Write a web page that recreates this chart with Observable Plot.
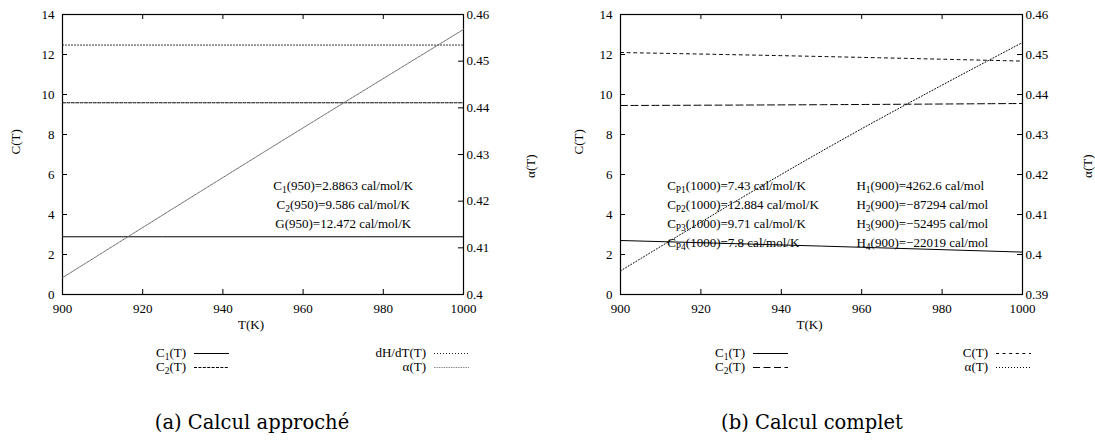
<!DOCTYPE html>
<html>
<head>
<meta charset="utf-8">
<script src="https://cdn.jsdelivr.net/npm/d3@7"></script>
<script src="https://cdn.jsdelivr.net/npm/@observablehq/plot@0.6"></script>
<style>
  body { margin: 0; background: #fff; }
  #root { position: relative; width: 1095px; height: 447px; overflow: hidden; font-family: "Liberation Serif", "Times New Roman", serif; color: #000; }
  .layer { position: absolute; top: 0; }
  .layer svg { display: block; max-width: none; }
  .leg { position: absolute; height: 14px; line-height: 14px; font-size: 13px; white-space: nowrap; }
  .leg .lab { position: absolute; text-align: right; }
  .leg .sub { font-size: 9.5px; position: relative; top: 3px; }
  .leg svg { position: absolute; top: 0; }
  .cap { position: absolute; font-family: "DejaVu Serif", serif; font-size: 19.5px; white-space: nowrap; transform: translateX(-50%); }
</style>
</head>
<body>
<div id="root"></div>
<script>
// ---------------- data ----------------
const T = [900, 950, 1000];
const xTicks = [900, 920, 940, 960, 980, 1000];
const cTicks = [0, 2, 4, 6, 8, 10, 12, 14];

// (a) Calcul approché
const aC1 = [2.8863, 2.8863, 2.8863];
const aC2 = [9.586, 9.586, 9.586];
const aDHdT = [12.472, 12.472, 12.472];
const aAlpha = [0.4036, 0.4304, 0.4568];
const aAlphaTicks = [0.40, 0.41, 0.42, 0.43, 0.44, 0.45, 0.46];
const aNotes = ["C_{1}(950)=2.8863 cal/mol/K", "C_{2}(950)=9.586 cal/mol/K", "G(950)=12.472 cal/mol/K"];

// (b) Calcul complet
const bC1 = [2.70, 2.42, 2.12];
const bC2 = [9.45, 9.49, 9.55];
const bC = [12.10, 11.90, 11.67];
const bAlpha = [0.3959, 0.4258, 0.4530];
const bAlphaTicks = [0.39, 0.40, 0.41, 0.42, 0.43, 0.44, 0.45, 0.46];
const bNotesCp = ["C_{P1}(1000)=7.43 cal/mol/K", "C_{P2}(1000)=12.884 cal/mol/K", "C_{P3}(1000)=9.71 cal/mol/K", "C_{P4}(1000)=7.8 cal/mol/K"];
const bNotesH = ["H_{1}(900)=4262.6 cal/mol", "H_{2}(900)=\u221287294 cal/mol", "H_{3}(900)=\u221252495 cal/mol", "H_{4}(900)=\u221222019 cal/mol"];

const captions = ["(a) Calcul approché", "(b) Calcul complet"];

// ---------------- layout ----------------
const H = 340, MT = 14, MB = 46;
const noteY = [5.45, 4.5, 3.55, 2.6];
const font = { fontFamily: '"Liberation Serif", "Times New Roman", serif', fontSize: "13px", background: "transparent", overflow: "visible", color: "#000" };

const rows = (vals) => T.map((t, i) => ({ T: t, v: vals[i] }));

function subscripts(svg) {
  svg.querySelectorAll("text").forEach(t => {
    const nodes = t.querySelector("tspan") ? [...t.querySelectorAll("tspan")] : [t];
    nodes.forEach(n => {
      const s = n.textContent;
      if (!s.includes("_{")) return;
      n.textContent = "";
      const re = /_\{([^}]*)\}/g;
      let last = 0, m, afterSub = false;
      const add = (str, isSub) => {
        const ts = document.createElementNS("http://www.w3.org/2000/svg", "tspan");
        ts.textContent = str;
        if (isSub) { ts.setAttribute("font-size", "9.5"); ts.setAttribute("dy", "3.5"); }
        else if (afterSub) ts.setAttribute("dy", "-3.5");
        n.appendChild(ts);
        afterSub = isSub;
      };
      while ((m = re.exec(s))) {
        if (m.index > last) add(s.slice(last, m.index), false);
        add(m[1], true);
        last = re.lastIndex;
      }
      if (last < s.length) add(s.slice(last), false);
    });
  });
}

function panel(cfg) {
  const pw = cfg.width - cfg.mL - cfg.mR, ph = H - MT - MB;
  const common = {
    width: cfg.width, height: H,
    marginLeft: cfg.mL, marginRight: cfg.mR, marginTop: MT, marginBottom: MB,
    style: font,
    x: { domain: [900, 1000], axis: null }
  };
  const main = Plot.plot({
    ...common,
    y: { domain: [0, 14], axis: null },
    marks: [
      Plot.axisX({ ticks: xTicks, anchor: "bottom", tickSize: 0, tickPadding: 9, label: null, tickFormat: d => String(d) }),
      Plot.axisY({ ticks: cTicks, anchor: "left", tickSize: 0, tickPadding: 8, label: null, tickFormat: d => String(d) }),
      Plot.tickX(xTicks, { x: d => d, insetTop: ph - 5, stroke: "#000" }),
      Plot.tickX(xTicks, { x: d => d, insetBottom: ph - 5, stroke: "#000" }),
      Plot.tickY(cTicks, { y: d => d, insetRight: pw - 5, stroke: "#000" }),
      ...cfg.series.map(s => Plot.line(rows(s.values), { x: "T", y: "v", stroke: s.color, strokeWidth: 1, strokeDasharray: s.dash, curve: "natural" })),
      ...cfg.notes.map(n => Plot.text(n.labels, { x: () => n.x, y: (d, i) => noteY[i], text: d => d, textAnchor: n.anchor, fill: "#000" })),
      Plot.text(["T(K)"], { frameAnchor: "bottom", text: d => d, dx: -12, dy: 34, fill: "#000" }),
      Plot.text(["C(T)"], { frameAnchor: "left", text: d => d, dx: cfg.cDx, rotate: -90, fill: "#000" }),
      Plot.frame({ stroke: "#000", strokeWidth: 1.2 })
    ]
  });
  const over = Plot.plot({
    ...common,
    y: { domain: cfg.aDomain, axis: null },
    marks: [
      Plot.axisY({ ticks: cfg.aTicks, anchor: "right", tickSize: 0, tickPadding: 3, label: null, tickFormat: d => String(d) }),
      Plot.tickY(cfg.aTicks, { y: d => d, insetLeft: pw - 5, stroke: "#000" }),
      Plot.line(rows(cfg.alpha.values), { x: "T", y: "v", stroke: cfg.alpha.color, strokeWidth: 1, strokeDasharray: cfg.alpha.dash, curve: "natural" }),
      Plot.text(["α(T)"], { frameAnchor: "right", text: d => d, dx: cfg.aDx, rotate: -90, fill: "#000" })
    ]
  });
  [main, over].forEach(svg => {
    subscripts(svg);
    const d = document.createElement("div");
    d.className = "layer";
    d.style.left = cfg.left + "px";
    d.appendChild(svg);
    document.getElementById("root").appendChild(d);
  });
}

function legend(xRight, yCenter, parts, style) {
  const root = document.getElementById("root");
  const d = document.createElement("div");
  d.className = "leg";
  d.style.left = "0px";
  d.style.top = (yCenter - 7) + "px";
  d.style.width = "1095px";
  const lab = document.createElement("span");
  lab.className = "lab";
  lab.style.left = (xRight - 120) + "px";
  lab.style.width = "120px";
  parts.forEach(([txt, sub]) => {
    lab.appendChild(document.createTextNode(txt));
    if (sub) { const s = document.createElement("span"); s.className = "sub"; s.textContent = sub; lab.appendChild(s); }
  });
  d.appendChild(lab);
  const svg = d3.create("svg").attr("width", 36).attr("height", 14).style("left", (xRight + 8) + "px");
  svg.append("line").attr("x1", 0).attr("x2", 35).attr("y1", 7.5).attr("y2", 7.5)
    .attr("stroke", style.color).attr("stroke-width", 1).attr("stroke-dasharray", style.dash || null);
  d.appendChild(svg.node());
  root.appendChild(d);
}

function caption(xCenter, top, text) {
  const c = document.createElement("div");
  c.className = "cap";
  c.style.left = xCenter + "px";
  c.style.top = top + "px";
  c.textContent = text;
  document.getElementById("root").appendChild(c);
}

// styles
const sSolid = { color: "#000", dash: null };
const aSC2 = { color: "#000", dash: "3,1.4" };
const aSDH = { color: "#222", dash: "1,2" };
const aSAl = { color: "#666", dash: "0.8,0.9" };
const bSC2 = { color: "#000", dash: "7,3.5" };
const bSC = { color: "#000", dash: "3,3.6" };
const bSAl = { color: "#000", dash: "1,2" };

panel({
  left: 0, width: 547, mL: 62, mR: 84, cDx: -47, aDx: 67,
  aDomain: [0.40, 0.46], aTicks: aAlphaTicks,
  series: [
    { values: aC1, ...sSolid },
    { values: aC2, ...aSC2 },
    { values: aDHdT, ...aSDH }
  ],
  alpha: { values: aAlpha, ...aSAl },
  notes: [{ labels: aNotes, x: 970, anchor: "middle" }]
});

panel({
  left: 547, width: 548, mL: 73, mR: 73, cDx: -42, aDx: 65,
  aDomain: [0.39, 0.46], aTicks: bAlphaTicks,
  series: [
    { values: bC1, ...sSolid },
    { values: bC2, ...bSC2 },
    { values: bC, ...bSC }
  ],
  alpha: { values: bAlpha, ...bSAl },
  notes: [
    { labels: bNotesCp, x: 911.6, anchor: "start" },
    { labels: bNotesH, x: 958.7, anchor: "start" }
  ]
});

legend(186, 353, [["C", "1"], ["(T)"]], sSolid);
legend(186, 366.5, [["C", "2"], ["(T)"]], aSC2);
legend(426, 353, [["dH/dT(T)"]], aSDH);
legend(426, 366.5, [["α(T)"]], aSAl);

legend(745, 353, [["C", "1"], ["(T)"]], sSolid);
legend(745, 366.5, [["C", "2"], ["(T)"]], bSC2);
legend(988, 353, [["C(T)"]], bSC);
legend(988, 366.5, [["α(T)"]], bSAl);

caption(252, 411, captions[0]);
caption(812, 411, captions[1]);
</script>
</body>
</html>
